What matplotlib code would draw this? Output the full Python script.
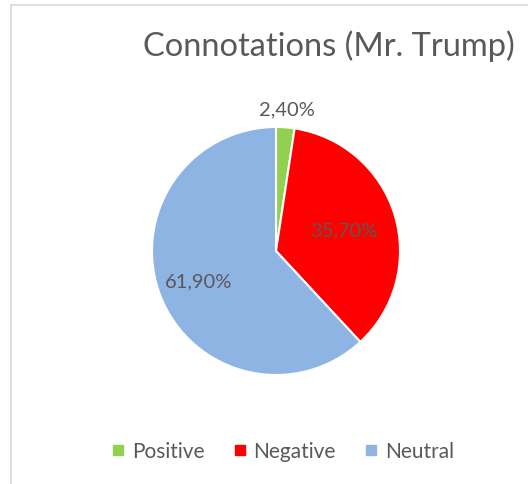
import numpy as np
import matplotlib.pyplot as plt
from matplotlib.lines import Line2D

# data
categories = ['Positive', 'Negative', 'Neutral']
values = [2.4, 35.7, 61.9]
labels = ['2,40%', '35,70%', '61,90%']
colors = ['#92D050', '#FF0000', '#8EB4E3']
label_dist = [1.15, 0.57, 0.67]

W, H = 528, 485
fig = plt.figure(figsize=(W / 100, H / 100), dpi=100)
plt.rcParams['font.family'] = ['Lato', 'DejaVu Sans']
text_col = '#595959'

# chart area frame (cut off at right and bottom)
fig.add_artist(plt.Line2D([11 / W, 11 / W], [0, 1 - 6 / H], color='#D9D9D9', lw=1.2))
fig.add_artist(plt.Line2D([11 / W, 1], [1 - 6 / H, 1 - 6 / H], color='#D9D9D9', lw=1.2))

# title
fig.text(143 / W, 1 - 46 / H, 'Connotations (Mr. Trump)', fontsize=23.5,
         color=text_col, ha='left', va='center')

# pie
cx, cy, r = 276, 252, 124
ax = fig.add_axes([(cx - r) / W, 1 - (cy + r) / H, 2 * r / W, 2 * r / H])
wedges, _ = ax.pie(values, colors=colors, startangle=90, counterclock=False,
                   wedgeprops=dict(edgecolor='white', linewidth=1.5))
ax.set_xlim(-1, 1)
ax.set_ylim(-1, 1)
ax.set_aspect('auto')
ax.axis('off')

for w, lab, d in zip(wedges, labels, label_dist):
    ang = np.deg2rad((w.theta1 + w.theta2) / 2)
    ax.text(d * np.cos(ang), d * np.sin(ang), lab, fontsize=14.5,
            color=text_col, ha='center', va='center')

# legend
handles = [Line2D([], [], marker='s', linestyle='none', markersize=7,
                  markerfacecolor=c, markeredgecolor=c) for c in colors]
fig.legend(handles, categories, loc='center', bbox_to_anchor=(281 / W, 1 - 452 / H),
           ncol=3, frameon=False, fontsize=15, labelcolor=text_col,
           handletextpad=0.15, columnspacing=1.2, handlelength=1.0)

plt.savefig('out.png', dpi=100)
